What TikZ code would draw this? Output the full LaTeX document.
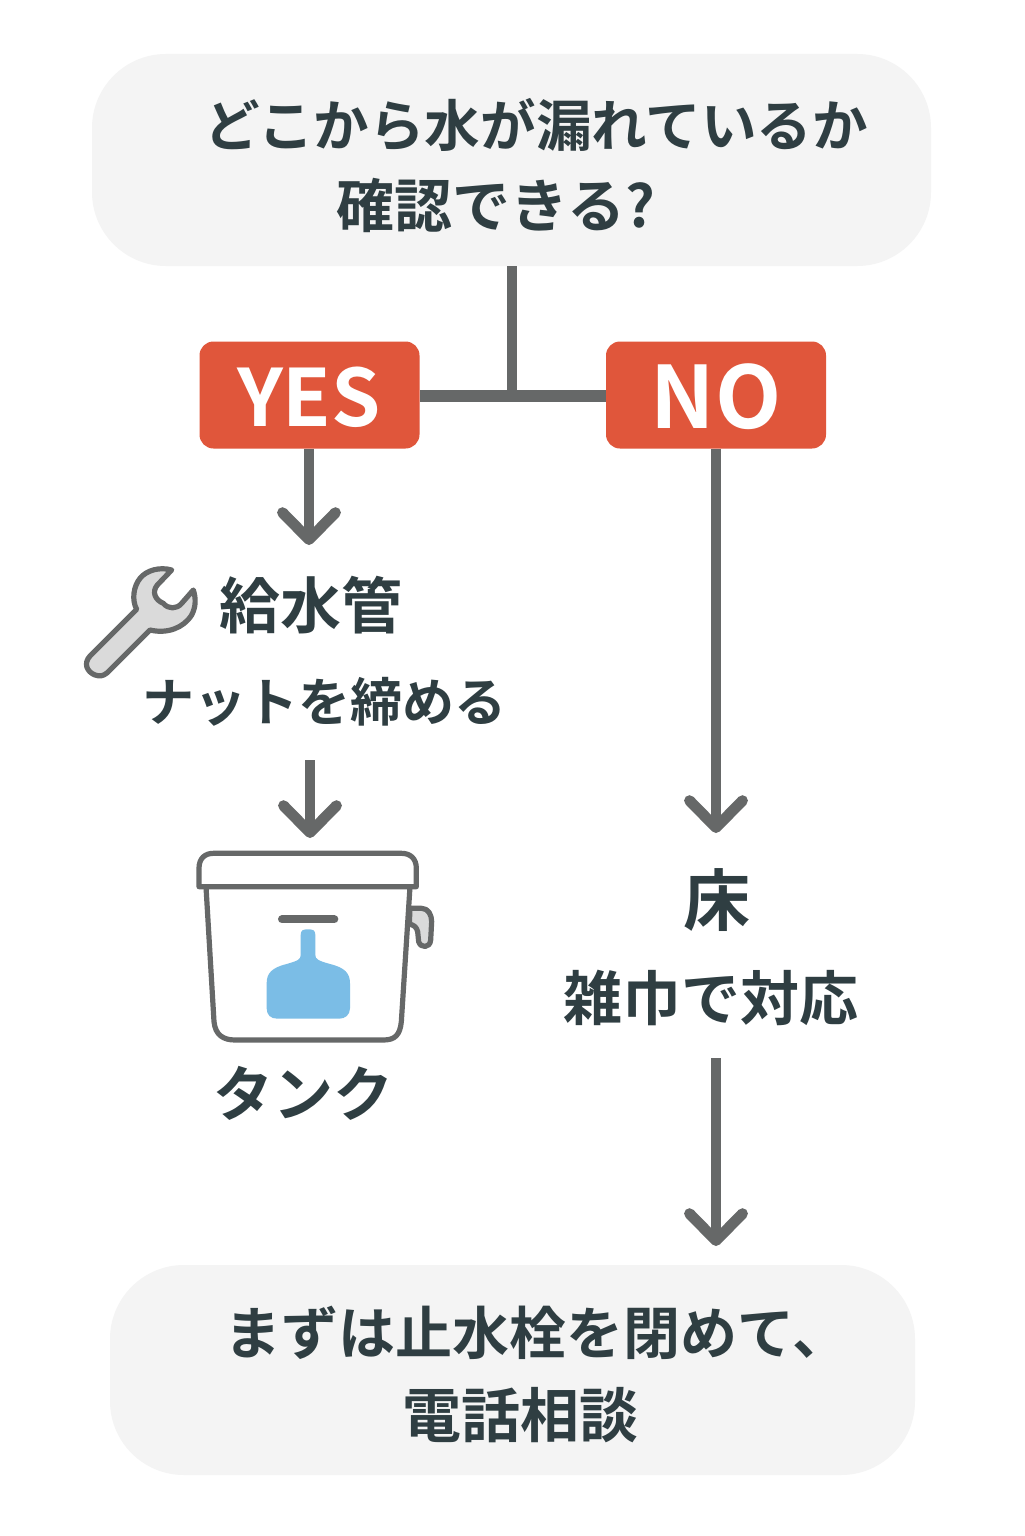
\documentclass[tikz,border=0pt]{standalone}
\usepackage{fontspec}
\usetikzlibrary{arrows.meta}
\newfontfamily\cjk{Noto Sans CJK JP Bold}
\definecolor{ink}{HTML}{2F3E42}
\definecolor{linegray}{HTML}{666868}
\definecolor{redbox}{HTML}{E0563B}
\definecolor{pale}{HTML}{F4F4F4}
\definecolor{iconfill}{HTML}{DADADA}
\definecolor{water}{HTML}{7BBDE6}
\newcommand{\jtext}[1]{\fontsize{#1}{#1}\selectfont}
\tikzset{
  x=0.5pt,y=-0.5pt,
  panel/.style={fill=pale,draw=none,rounded corners=37pt,inner sep=0pt},
  answer/.style={fill=redbox,draw=none,rounded corners=7pt,inner sep=0pt,minimum width=110pt,minimum height=53.5pt},
  answertext/.style={text=white,inner sep=0pt,font=\cjk},
  jp/.style={text=ink,inner sep=0pt,font=\cjk},
  conn/.style={draw=linegray,line width=5.4pt},
  arrowed/.style={conn,-{Straight Barb[length=13.5pt,width=26.5pt,line width=5.4pt,round=false]}},
  icon/.style={draw=linegray,line width=2.6pt,line join=round},
}
\begin{document}
\begin{tikzpicture}
\useasboundingbox (0,0) rectangle (1024,1536);
\fill[white] (0,0) rectangle (1024,1536);
% panels
\node[panel,minimum width=419.5pt,minimum height=106pt] (top) at (511.5,160) {};
\node[panel,minimum width=402.5pt,minimum height=105pt] (bottom) at (512.5,1370) {};
% answers
\node[answer] (yes) at (309.5,395) {};
\node[answer] (no) at (716,395) {};
\node[answertext] (yeslabel) at (309,397) {\jtext{39.5}YES};
\node[answertext] (nolabel) at (716,397) {\jtext{43}NO};
\coordinate (junction) at (512,396);
% connectors
\draw[conn,line width=6pt] (yes.east |- junction) -- (no.west |- junction);
\draw[conn] (top.south -| junction) -- (junction);
\coordinate (a1) at (309,545);
\coordinate (a2s) at (310,760);
\coordinate (a2e) at (310,838);
\coordinate (a3) at (716,833);
\coordinate (a4s) at (716,1058);
\coordinate (a4e) at (716,1246);
\draw[arrowed] (yes.south -| a1) -- (a1);
\draw[arrowed] (a2s) -- (a2e);
\draw[arrowed] (no.south) -- (a3);
\draw[arrowed] (a4s) -- (a4e);
% texts
\node[jp] (t1) at (536,125) {\jtext{27.8}どこから水が漏れているか};
\node[jp] (t2) at (496,205) {\jtext{29}確認できる?};
\node[jp] (t3) at (311,605) {\jtext{30.5}給水管};
\node[jp] (t4) at (324,702) {\jtext{26}ナットを締める};
\node[jp] (t5) at (303,1093) {\jtext{30}タンク};
\node[jp] (t6) at (717,900) {\jtext{33.5}床};
\node[jp] (t7) at (711,998) {\jtext{29.5}雑巾で対応};
\node[jp] (t8) at (537,1333) {\jtext{28.5}まずは止水栓を閉めて、};
\node[jp] (t9) at (520,1415) {\jtext{29.5}電話相談};
% wrench
\begin{scope}[shift={(70,550)},scale=1/3]
\draw[icon,fill=iconfill] (305,60) .. controls (270,50) and (230,60) .. (210,85)
 .. controls (190,110) and (185,150) .. (200,178) -- (60,318)
 .. controls (40,340) and (50,365) .. (75,375) .. controls (90,380) and (100,378) .. (112,368)
 -- (240,240) .. controls (290,252) and (340,235) .. (365,195)
 .. controls (378,170) and (378,145) .. (370,120) -- (335,160)
 .. controls (320,178) and (295,178) .. (280,160) .. controls (255,150) and (245,125) .. (262,105) -- cycle;
\end{scope}
% tank
\begin{scope}[shift={(180,840)},scale=1/3]
\draw[icon,fill=iconfill] (690,205) -- (725,205) .. controls (745,205) and (755,225) .. (755,245) -- (752,300)
 .. controls (750,325) and (722,325) .. (716,305) -- (713,275) .. controls (710,260) and (700,255) .. (688,252) -- cycle;
\draw[icon,fill=white] (78,140) -- (102,545) .. controls (106,585) and (130,600) .. (165,600) -- (610,600)
 .. controls (645,600) and (660,585) .. (664,545) -- (690,140);
\draw[icon,fill=white] (57,140) -- (57,85) .. controls (57,55) and (75,40) .. (100,40) -- (665,40)
 .. controls (690,40) and (709,55) .. (709,85) -- (709,140) -- cycle;
\draw[draw=linegray,line width=4pt,line cap=round] (306,238) -- (463,238);
\fill[water] (362,285) .. controls (362,270) and (370,268) .. (384,268) .. controls (398,268) and (406,270) .. (406,285)
 -- (406,345) .. controls (406,358) and (415,362) .. (450,372) .. controls (495,383) and (510,400) .. (510,430)
 -- (510,505) .. controls (510,525) and (495,536) .. (478,536) -- (292,536)
 .. controls (272,536) and (260,525) .. (260,505) -- (260,430) .. controls (260,400) and (275,383) .. (320,372)
 .. controls (355,362) and (362,358) .. (362,345) -- cycle;
\end{scope}
\end{tikzpicture}
\end{document}
